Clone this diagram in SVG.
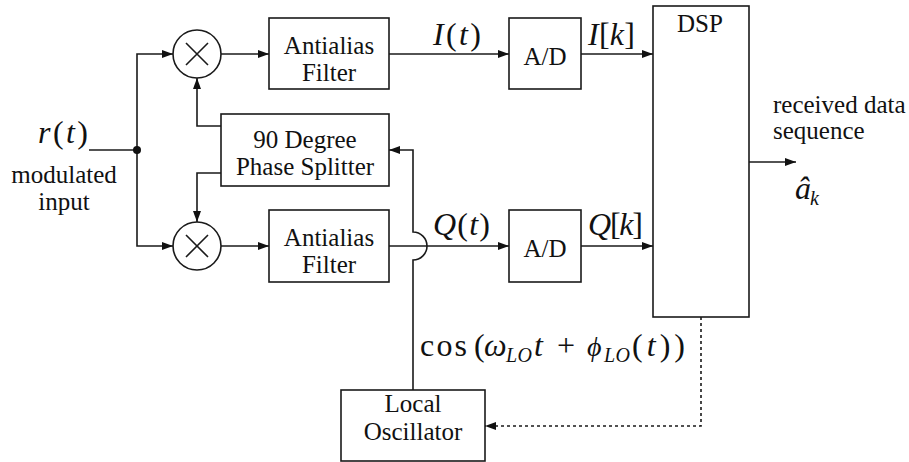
<svg xmlns="http://www.w3.org/2000/svg" width="909" height="462" viewBox="0 0 909 462">
  <style>
    .box { fill: #fff; stroke: #1a1a1a; stroke-width: 1.6; }
    .wire { fill: none; stroke: #1a1a1a; stroke-width: 1.6; }
    .arrow { marker-end: url(#head); }
    .dotted { stroke-dasharray: 3 3; }
    text { font-family: 'Liberation Serif', 'Times New Roman', 'DejaVu Serif', serif; fill: #111; }
    .lbl { font-size: 25px; text-anchor: middle; }
    .math { font-size: 32px; }
    .it { font-style: italic; }
    .sub { font-size: 20px; font-style: italic; }
  </style>
  <defs>
    <marker id="head" viewBox="0 0 11 8" refX="11" refY="4" markerWidth="11" markerHeight="8" markerUnits="userSpaceOnUse" orient="auto">
      <path d="M0,0 L11,4 L0,8 z" fill="#111"/>
    </marker>
  </defs>

  <!-- signal paths -->
  <g id="connectors">
    <!-- input splits to both mixers -->
    <path class="wire" d="M89,150 H137"/>
    <path class="wire arrow" d="M137,150 V54 H173"/>
    <path class="wire arrow" d="M137,150 V246 H173"/>
    <circle cx="137" cy="150" r="4" fill="#111"/>
    <!-- mixers to filters -->
    <path class="wire arrow" d="M221,54 H269"/>
    <path class="wire arrow" d="M221,246 H269"/>
    <!-- filters to A/D -->
    <path class="wire arrow" d="M389,54 H509"/>
    <path class="wire arrow" d="M389,246 H509"/>
    <!-- A/D to DSP -->
    <path class="wire arrow" d="M581,54 H653"/>
    <path class="wire arrow" d="M581,246 H653"/>
    <!-- phase splitter outputs to mixers -->
    <path class="wire arrow" d="M221,126 H197 V78"/>
    <path class="wire arrow" d="M221,173 H197 V222"/>
    <!-- local oscillator to phase splitter, hopping over the Q path -->
    <path class="wire arrow" d="M413,390 V260 A14,14 0 0 0 413,232 V150 H389"/>
    <!-- DSP output -->
    <path class="wire arrow" d="M749,162 H796"/>
    <!-- DSP feedback to local oscillator -->
    <path class="wire arrow dotted" d="M701,317 V426 H485"/>
  </g>

  <!-- mixers -->
  <g id="mixer-i">
    <circle class="box" cx="197" cy="54" r="24"/>
    <path class="wire" d="M186,43 L208,65 M208,43 L186,65"/>
  </g>
  <g id="mixer-q">
    <circle class="box" cx="197" cy="246" r="24"/>
    <path class="wire" d="M186,235 L208,257 M208,235 L186,257"/>
  </g>

  <!-- filters -->
  <g id="filter-i">
    <rect class="box" x="269" y="18" width="120" height="71"/>
    <text class="lbl" x="329" y="54">Antialias</text>
    <text class="lbl" x="329" y="81">Filter</text>
  </g>
  <g id="filter-q">
    <rect class="box" x="269" y="210" width="120" height="72"/>
    <text class="lbl" x="329" y="246">Antialias</text>
    <text class="lbl" x="329" y="273">Filter</text>
  </g>

  <!-- phase splitter -->
  <g id="splitter">
    <rect class="box" x="221" y="114" width="168" height="72"/>
    <text class="lbl" x="305" y="148">90 Degree</text>
    <text class="lbl" x="305" y="175">Phase Splitter</text>
  </g>

  <!-- converters -->
  <g id="adc-i">
    <rect class="box" x="509" y="18" width="72" height="71"/>
    <text class="lbl" x="545" y="65">A/D</text>
  </g>
  <g id="adc-q">
    <rect class="box" x="509" y="210" width="72" height="72"/>
    <text class="lbl" x="545" y="257">A/D</text>
  </g>

  <!-- DSP -->
  <g id="dsp">
    <rect class="box" x="653" y="6" width="96" height="311"/>
    <text class="lbl" x="700" y="32">DSP</text>
  </g>

  <!-- local oscillator -->
  <g id="lo">
    <rect class="box" x="341" y="390" width="144" height="71"/>
    <text class="lbl" x="413" y="412">Local</text>
    <text class="lbl" x="413" y="440">Oscillator</text>
  </g>

  <!-- signal labels -->
  <g id="labels">
    <text class="math" x="38" y="143" textLength="50" lengthAdjust="spacing"><tspan class="it">r</tspan>(<tspan class="it">t</tspan>)</text>
    <text class="lbl" x="64" y="183">modulated</text>
    <text class="lbl" x="64" y="210">input</text>

    <text class="math" x="433" y="45" textLength="48" lengthAdjust="spacing"><tspan class="it">I</tspan>(<tspan class="it">t</tspan>)</text>
    <text class="math" x="588" y="45" textLength="47" lengthAdjust="spacing"><tspan class="it">I</tspan>[<tspan class="it">k</tspan>]</text>
    <text class="math" x="433" y="235" textLength="57" lengthAdjust="spacing"><tspan class="it">Q</tspan>(<tspan class="it">t</tspan>)</text>
    <text class="math" x="588" y="235" textLength="55" lengthAdjust="spacing"><tspan class="it">Q</tspan>[<tspan class="it">k</tspan>]</text>

    <!-- cos(ω_LO t + ϕ_LO(t)) -->
    <text class="math" x="420" y="356" textLength="47" lengthAdjust="spacing">cos</text>
    <text class="math" x="474" y="356">(</text>
    <text class="math it" x="484" y="356">ω</text>
    <text class="sub" x="506" y="362" textLength="26" lengthAdjust="spacing">LO</text>
    <text class="math it" x="534" y="356">t</text>
    <text class="math" x="557" y="356">+</text>
    <text class="math it" x="587" y="356" style="font-size:28px">ϕ</text>
    <text class="sub" x="604" y="362" textLength="26" lengthAdjust="spacing">LO</text>
    <text class="math" x="632" y="356" textLength="53" lengthAdjust="spacing">(<tspan class="it">t</tspan>))</text>

    <text class="lbl" x="773" y="113" style="text-anchor:start">received data</text>
    <text class="lbl" x="773" y="139" style="text-anchor:start">sequence</text>
    <text class="math it" x="795" y="199">â</text>
    <text class="sub" x="810" y="205">k</text>
  </g>
</svg>
